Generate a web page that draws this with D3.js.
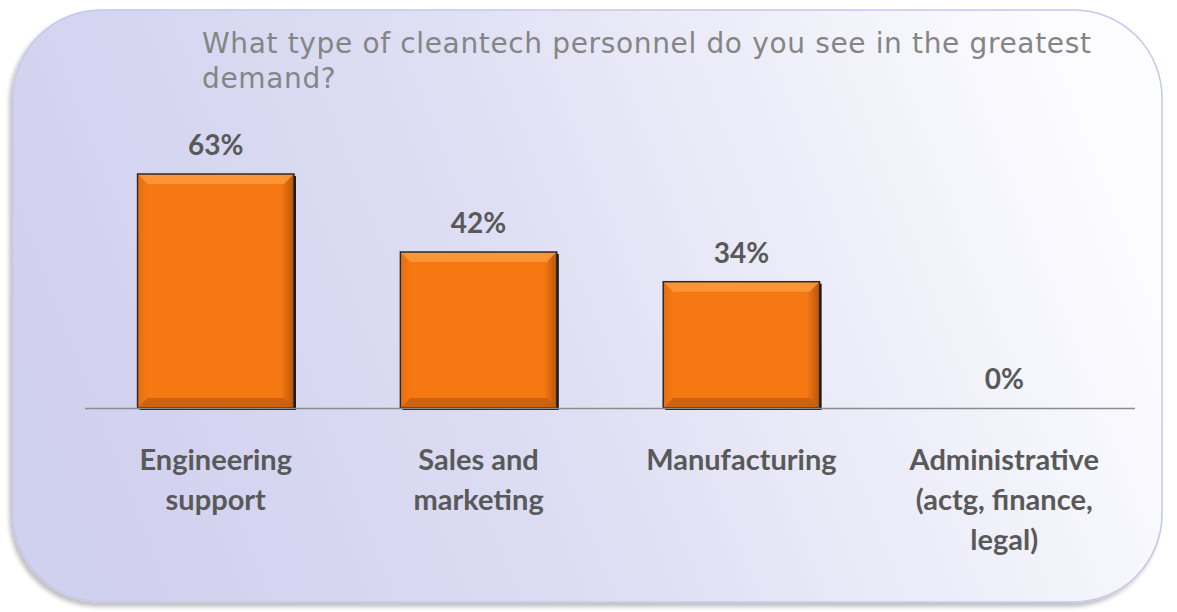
<!DOCTYPE html>
<html>
<head>
<meta charset="utf-8">
<script src="https://cdn.jsdelivr.net/npm/d3@7"></script>
<style>
  body { margin: 0; background: #ffffff; }
  svg { display: block; }
</style>
</head>
<body>
<svg id="chart" width="1177" height="612"></svg>
<script>
// données du graphique
var categories = ["Engineering support", "Sales and marketing", "Manufacturing", "Administrative (actg, finance, legal)"];
var categoryLines = [["Engineering", "support"], ["Sales and", "marketing"], ["Manufacturing"], ["Administrative", "(actg, finance,", "legal)"]];
var values = [63, 42, 34, 0];
var titleLines = ["What type of cleantech personnel do you see in the greatest", "demand?"];

var svg = d3.select("#chart");
var defs = svg.append("defs");

// fond dégradé
var bg = defs.append("linearGradient").attr("id", "bg")
  .attr("x1", "0%").attr("y1", "60%").attr("x2", "100%").attr("y2", "40%");
bg.append("stop").attr("offset", "0%").attr("stop-color", "#d0d0ef");
bg.append("stop").attr("offset", "40%").attr("stop-color", "#dcdcf3");
bg.append("stop").attr("offset", "100%").attr("stop-color", "#fdfdff");

var shadow = defs.append("filter").attr("id", "shadow").attr("x", "-5%").attr("y", "-5%").attr("width", "110%").attr("height", "115%");
shadow.append("feGaussianBlur").attr("in", "SourceAlpha").attr("stdDeviation", 2);
shadow.append("feOffset").attr("dx", -3).attr("dy", 4).attr("result", "off");
shadow.append("feComponentTransfer").append("feFuncA").attr("type", "linear").attr("slope", 0.25);
var mg = shadow.append("feMerge");
mg.append("feMergeNode");
mg.append("feMergeNode").attr("in", "SourceGraphic");

// panneau
svg.append("rect")
  .attr("x", 13).attr("y", 10).attr("width", 1149).attr("height", 592)
  .attr("rx", 88).attr("ry", 88)
  .attr("fill", "url(#bg)")
  .attr("stroke", "#c6c6ee").attr("stroke-width", 1.5)
  .attr("filter", "url(#shadow)");

// titre
svg.append("text")
  .attr("x", 202).attr("y", 53)
  .attr("font-family", "DejaVu Sans, Verdana, sans-serif")
  .attr("font-size", 28).attr("fill", "#858585")
  .attr("letter-spacing", 0.65)
  .selectAll("tspan").data(titleLines).enter()
  .append("tspan").attr("x", 202).attr("dy", function(d, i){ return i == 0 ? 0 : 35; })
  .text(function(d){ return d; });

// échelles
var x = d3.scaleBand().domain(categories).range([85, 1135]).paddingInner(0.405).paddingOuter(0.2);
var y = d3.scaleLinear().domain([0, 63]).range([408, 174]);

// dégradés de barre
var barGrad = defs.append("linearGradient").attr("id", "barGrad").attr("x1", 0).attr("y1", 0).attr("x2", 1).attr("y2", 0);
barGrad.append("stop").attr("offset", "0%").attr("stop-color", "#e86e0e");
barGrad.append("stop").attr("offset", "6%").attr("stop-color", "#f57812");
barGrad.append("stop").attr("offset", "92%").attr("stop-color", "#f57812");
barGrad.append("stop").attr("offset", "100%").attr("stop-color", "#b8560a");

var bars = svg.append("g").selectAll("g").data(categories).enter().append("g");

bars.filter(function(d, i){ return values[i] > 0; }).each(function(d){
  var g = d3.select(this);
  var idx = categories.indexOf(d);
  var x0 = x(d), w = x.bandwidth(), y0 = y(values[idx]), h = y(0) - y(values[idx]);
  var b = 10;
  // ombre droite
  g.append("rect").attr("x", x0 + 2).attr("y", y0 + 2).attr("width", w).attr("height", h)
    .attr("fill", "#111");
  g.append("rect").attr("x", x0).attr("y", y0).attr("width", w).attr("height", h)
    .attr("fill", "url(#barGrad)");
  // biseau haut
  g.append("path")
    .attr("d", "M" + x0 + "," + y0 + "L" + (x0 + w) + "," + y0 + "L" + (x0 + w - b) + "," + (y0 + b) + "L" + (x0 + b) + "," + (y0 + b) + "Z")
    .attr("fill", "#fb9a3c").attr("opacity", 0.85);
  // biseau bas
  g.append("path")
    .attr("d", "M" + x0 + "," + (y0 + h) + "L" + (x0 + w) + "," + (y0 + h) + "L" + (x0 + w - b) + "," + (y0 + h - b) + "L" + (x0 + b) + "," + (y0 + h - b) + "Z")
    .attr("fill", "#c55e0c").attr("opacity", 0.8);
  g.append("rect").attr("x", x0).attr("y", y0).attr("width", w).attr("height", h)
    .attr("fill", "none").attr("stroke", "#2a2a2a").attr("stroke-width", 1.5);
});

// axe
svg.append("line").attr("x1", 85).attr("x2", 1135).attr("y1", y(0) + 0.5).attr("y2", y(0) + 0.5)
  .attr("stroke", "#8c8c8c").attr("stroke-width", 1.5);

// étiquettes de valeur
svg.append("g").selectAll("text").data(categories).enter().append("text")
  .attr("x", function(d){ return x(d) + x.bandwidth() / 2; })
  .attr("y", function(d, i){ return y(values[i]) - 19; })
  .attr("text-anchor", "middle")
  .attr("font-family", "Lato, Open Sans, sans-serif").attr("font-weight", "bold")
  .attr("font-size", 28).attr("fill", "#595959")
  .text(function(d, i){ return values[i] + "%"; });

// étiquettes de catégorie
svg.append("g").selectAll("text").data(categories).enter().append("text")
  .attr("text-anchor", "middle")
  .attr("font-family", "Lato, Open Sans, sans-serif").attr("font-weight", "bold")
  .attr("font-size", 29).attr("fill", "#595959")
  .each(function(d, i){
    var t = d3.select(this);
    var cx = x(d) + x.bandwidth() / 2;
    categoryLines[i].forEach(function(line, j){
      t.append("tspan").attr("x", cx).attr("y", 470 + j * 40).text(line);
    });
  });
</script>
</body>
</html>
